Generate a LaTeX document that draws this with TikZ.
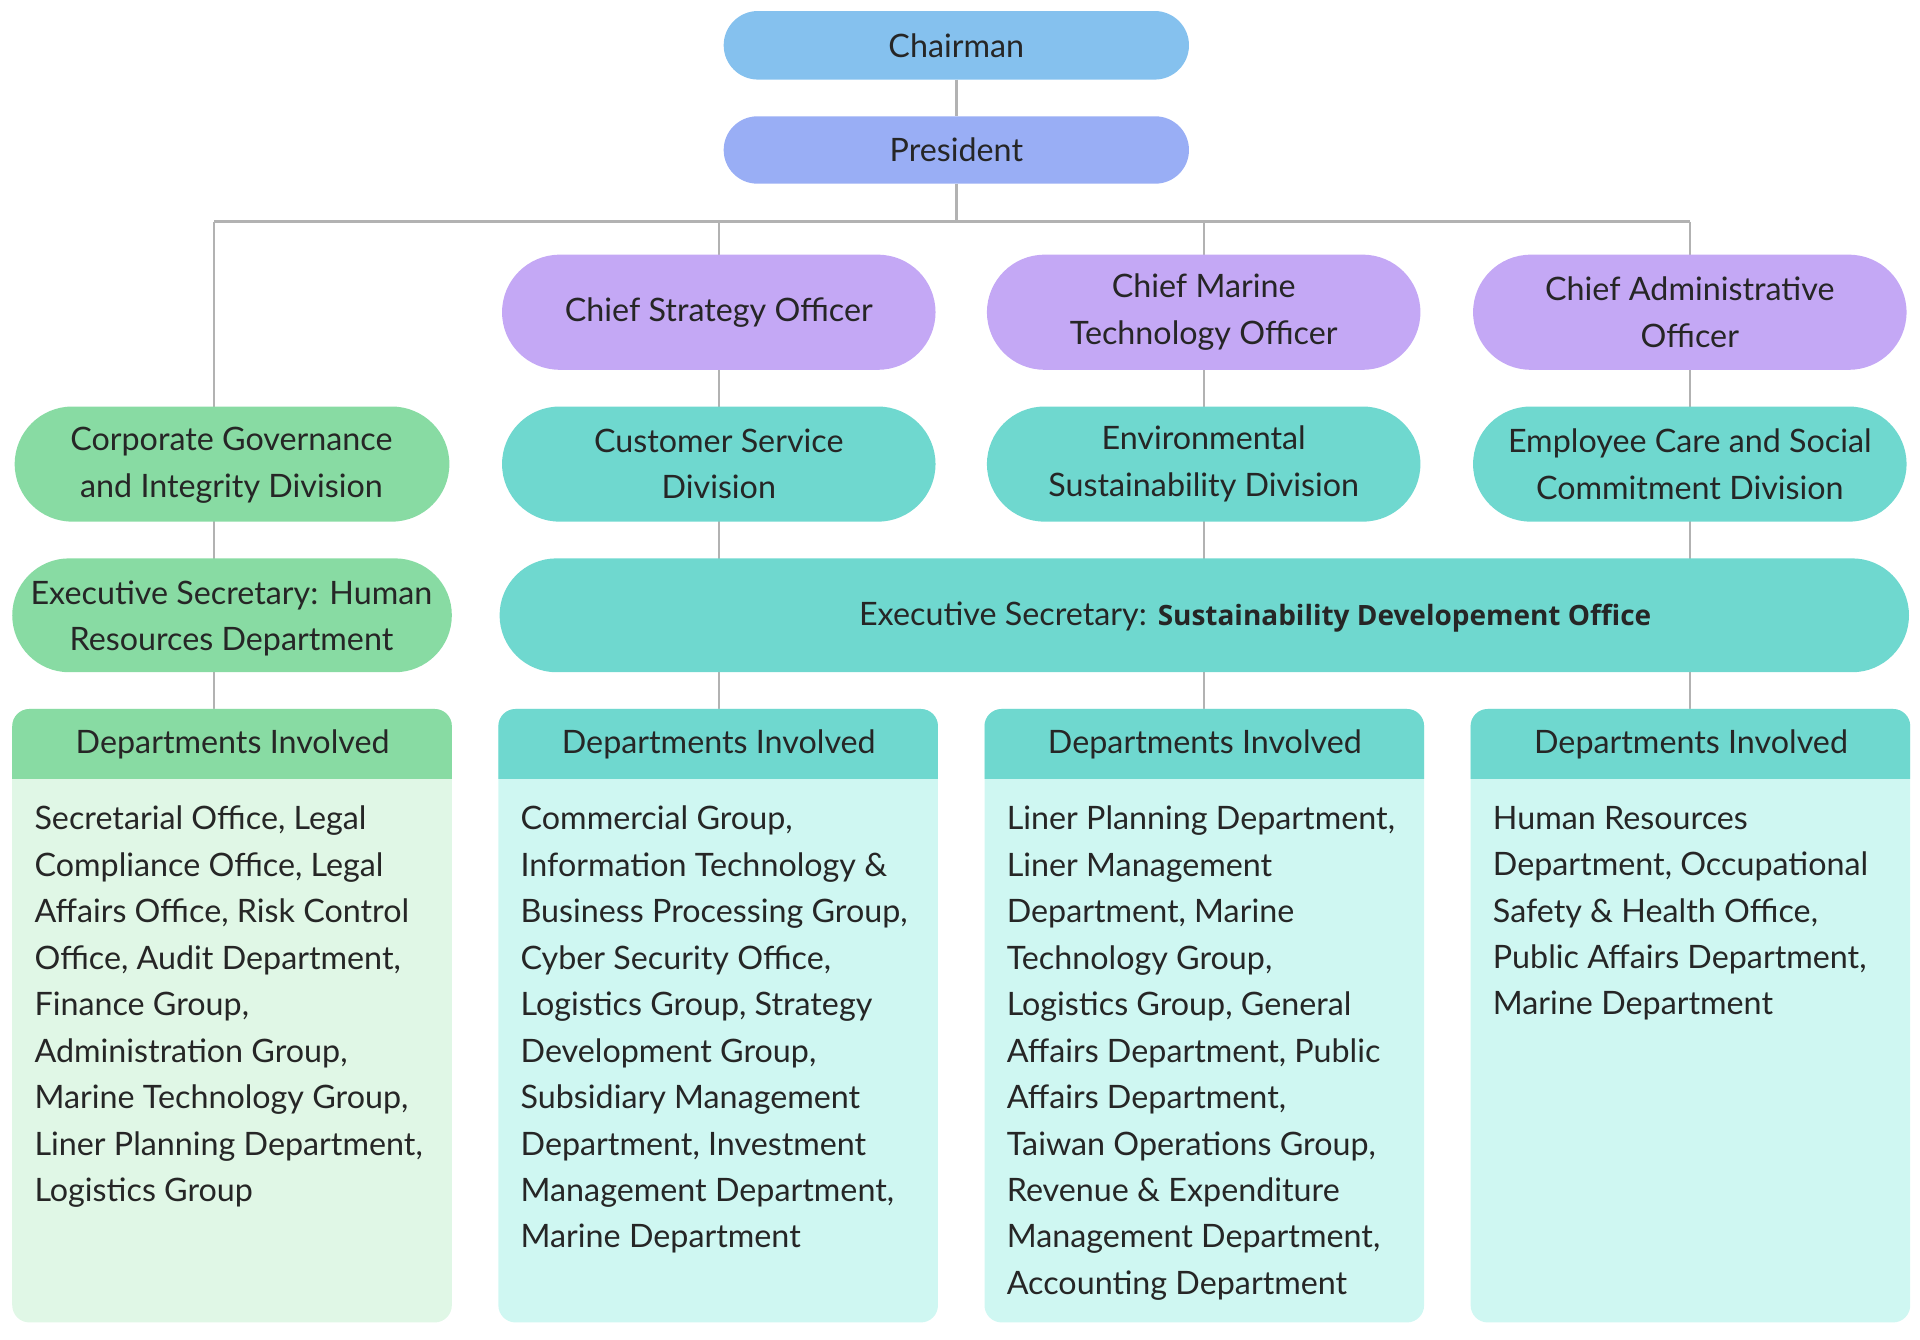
\documentclass[tikz,border=0pt]{standalone}
\usepackage{fontspec}
\setmainfont{Lato}
\begin{document}
\begin{tikzpicture}[x=0.02cm,y=-0.02cm,
  every node/.style={font=\fontsize{15}{21.6}\selectfont, text=black!85},
  ln/.style={draw=black!30, line width=1.1pt}]
\definecolor{cb}{HTML}{85C1EE}\definecolor{pb}{HTML}{99AEF5}\definecolor{pu}{HTML}{C4A8F5}
\definecolor{gr}{HTML}{88DBA3}\definecolor{te}{HTML}{6FD8CF}\definecolor{lg}{HTML}{E0F7E6}\definecolor{lt}{HTML}{CFF7F2}
\useasboundingbox (0,0) rectangle (1568,1094);
% lines
\coordinate (b) at (781,181);
\draw[ln] (781,65) -- (781,95);
\draw[ln] (781,150) -- (b);
\draw[ln] (175,181) -- (1380,181);
\draw[ln] (175,181) -- (175,579);
\foreach \x in {587,983,1380} \draw[ln] (\x,181) -- (\x,579);
% top
\fill[cb,rounded corners=0.56cm] (591,9) rectangle (971,65);
\node (chair) at (781,37) {Chairman};
\fill[pb,rounded corners=0.55cm] (591,95) rectangle (971,150);
\node (pres) at (781,122) {President};
\foreach \x/\t in {587/Chief Strategy Officer,983/{Chief Marine\\Technology Officer},1380/{Chief Administrative\\Officer}}{
  \fill[pu,rounded corners=0.94cm] (\x-177,208) rectangle (\x+177,302);
  \node[align=center] at (\x,255) {\t};}
\fill[gr,rounded corners=0.94cm] (12,332) rectangle (367,426);
\node[align=center] (cg) at (189,380) {Corporate Governance\\and Integrity Division};
\foreach \x/\t in {587/{Customer Service\\Division},983/{Environmental\\Sustainability Division},1380/{Employee Care and Social\\Commitment Division}}{
  \fill[te,rounded corners=0.94cm] (\x-177,332) rectangle (\x+177,426);
  \node[align=center] at (\x,379) {\t};}
\fill[gr,rounded corners=0.93cm] (10,456) rectangle (369,549);
\node[align=center] (es1) at (189,505) {Executive Secretary: Human\\Resources Department};
\fill[te,rounded corners=0.93cm] (408,456) rectangle (1559,549);
\node (es2) at (1025,504) {Executive Secretary: {\setmainfont{Open Sans}\fontsize{13}{16}\selectfont\bfseries Sustainability Developement Office}};
% dept boxes
\foreach \x/\h/\bd [count=\i] in {10/gr/lg,407/te/lt,804/te/lt,1201/te/lt}{
  \fill[\bd,rounded corners=0.28cm] (\x,579) rectangle (\x+359,1080);
  \fill[\h] (\x,636) [rounded corners=0.28cm] -- (\x,579) -- (\x+359,579) [sharp corners] -- (\x+359,636) -- cycle;
  \node (dh\i) at (\x+180,608) {Departments Involved};}
\node[anchor=north west,align=left] (d1) at (22,652) {Secretarial Office, Legal\\Compliance Office, Legal\\Affairs Office, Risk Control\\Office, Audit Department,\\Finance Group,\\Administration Group,\\Marine Technology Group,\\Liner Planning Department,\\Logistics Group};
\node[anchor=north west,align=left] (d2) at (419,652) {Commercial Group,\\Information Technology \&\\Business Processing Group,\\Cyber Security Office,\\Logistics Group, Strategy\\Development Group,\\Subsidiary Management\\Department, Investment\\Management Department,\\Marine Department};
\node[anchor=north west,align=left] (d3) at (816,652) {Liner Planning Department,\\Liner Management\\Department, Marine\\Technology Group,\\Logistics Group, General\\Affairs Department, Public\\Affairs Department,\\Taiwan Operations Group,\\Revenue \& Expenditure\\Management Department,\\Accounting Department};
\node[anchor=north west,align=left] (d4) at (1213,652) {Human Resources\\Department, Occupational\\Safety \& Health Office,\\Public Affairs Department,\\Marine Department};
\end{tikzpicture}
\end{document}
